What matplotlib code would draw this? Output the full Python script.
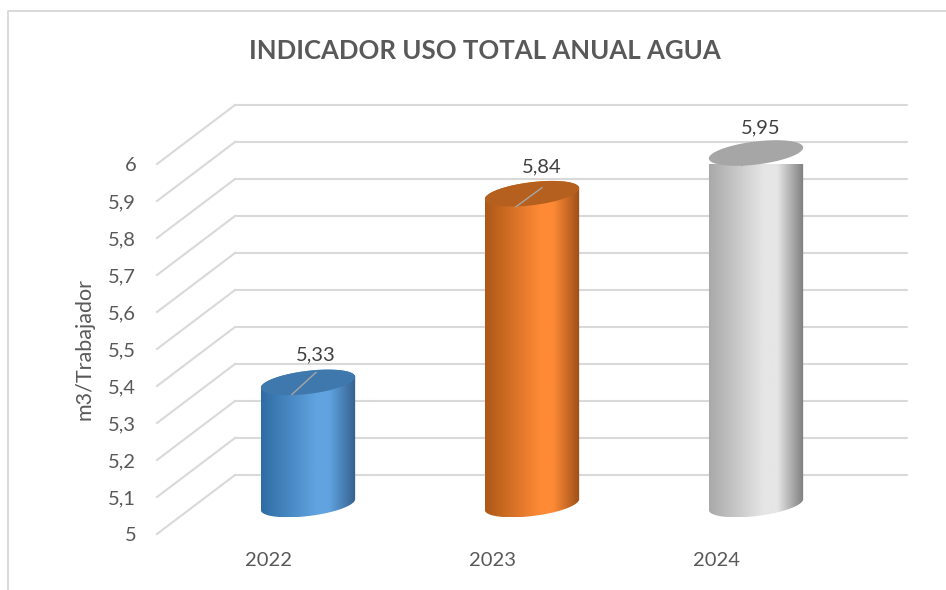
import numpy as np
import matplotlib
matplotlib.use("Agg")
import matplotlib.pyplot as plt
from matplotlib.colors import LinearSegmentedColormap
from matplotlib.patches import Polygon
from matplotlib.lines import Line2D
from matplotlib.transforms import Affine2D, IdentityTransform

plt.rcParams['font.family'] = ['Lato', 'DejaVu Sans']

# Data
years = ['2022', '2023', '2024']
values = [5.33, 5.84, 5.95]
value_labels = ['5,33', '5,84', '5,95']
yticks = [5.0, 5.1, 5.2, 5.3, 5.4, 5.5, 5.6, 5.7, 5.8, 5.9, 6.0]
ytick_labels = ['5', '5,1', '5,2', '5,3', '5,4', '5,5', '5,6', '5,7', '5,8', '5,9', '6']
title = 'INDICADOR USO TOTAL ANUAL AGUA'
ylabel = 'm3/Trabajador'

# Styles: (side dark, highlight, other side dark, top)
palette = [
    ('#2f6ca3', '#60a3e0', '#35608c', '#3f78ad'),
    ('#ad5817', '#ff8a36', '#9c4f18', '#b5601f'),
    ('#a9a9a9', '#e6e6e6', '#7d7d7d', '#a6a6a6'),
]
label_offsets = [(8, 28), (10, 27), (5, 25)]
leaders = [((-16, -12), (8, 10)), ((-16, -13), (10, 6)), ((-15, -12), (-14, -12))]
GRID = '#d9d9d9'
TEXT = '#595959'
W, H = 946, 590
DEPTH = (78, 59)
RX, RY, TILT = 47.5, 11.5, np.deg2rad(7)

fig = plt.figure(figsize=(W / 100, H / 100), dpi=100, facecolor='white')
ax = fig.add_axes([157 / W, (H - 534) / H, (829 - 157) / W, 370 / H])
ax.set_xlim(-0.5, 2.5)
ax.set_ylim(5, 6)
ax.patch.set_visible(False)
for s in ax.spines.values():
    s.set_visible(False)

back = ax.transData + Affine2D().translate(*DEPTH)
for v in yticks:
    # floor/side diagonal then back wall line
    p0 = ax.transData.transform((-0.5, v))
    ax.add_line(Line2D([p0[0], p0[0] + DEPTH[0]], [p0[1], p0[1] + DEPTH[1]],
                       transform=IdentityTransform(), color=GRID, lw=1.5, clip_on=False, zorder=1))
    ax.plot([-0.5, 2.5], [v, v], transform=back, color=GRID, lw=1.5, clip_on=False, zorder=1,
            solid_capstyle='round')

ax.set_xticks(range(len(years)), years)
ax.set_yticks(yticks, ytick_labels)
ax.tick_params(axis='both', length=0, labelsize=14.5, labelcolor=TEXT)
ax.tick_params(axis='y', pad=15)
ax.tick_params(axis='x', pad=13)


def ell(cx, cy, t):
    x = cx + RX * np.cos(t) * np.cos(TILT) - RY * np.sin(t) * np.sin(TILT)
    y = cy + RX * np.cos(t) * np.sin(TILT) + RY * np.sin(t) * np.cos(TILT)
    return np.column_stack([x, y])


t_low = np.linspace(np.pi, 2 * np.pi, 80)
t_up = np.linspace(0, np.pi, 80)
t_all = np.linspace(0, 2 * np.pi, 160)

for i, (v, lab, cols) in enumerate(zip(values, value_labels, palette)):
    cx, cy_top = ax.transData.transform((i, v)) + np.array(DEPTH) / 2
    _, cy_bot = ax.transData.transform((i, 5.0)) + np.array(DEPTH) / 2
    body = np.vstack([ell(cx, cy_bot, t_low), ell(cx, cy_top, t_up)])
    clip = Polygon(body, closed=True, transform=IdentityTransform(), fc='none', ec='none')
    ax.add_patch(clip)
    cmap = LinearSegmentedColormap.from_list(
        'c', [(0, cols[0]), (0.58, cols[1]), (0.72, cols[1]), (1, cols[2])])
    left, right = body[:, 0].min(), body[:, 0].max()
    bot, top = body[:, 1].min(), body[:, 1].max()
    im = ax.imshow(np.linspace(0, 1, 256)[None, :], cmap=cmap, aspect='auto',
                   extent=(left, right, bot, top), transform=IdentityTransform(),
                   zorder=3, interpolation='bilinear')
    im.set_clip_path(clip)
    im.set_clip_on(True)
    ax.add_patch(Polygon(ell(cx, cy_top, t_all), closed=True, transform=IdentityTransform(),
                         fc=cols[3], ec='none', zorder=4, clip_on=False))
    (a, b) = leaders[i]
    ax.add_line(Line2D([cx + a[0], cx + b[0]], [cy_top + a[1], cy_top + b[1]],
                       transform=IdentityTransform(), color='#a6a6a6', lw=1.0,
                       clip_on=False, zorder=5))
    ox, oy = label_offsets[i]
    ax.text(cx + ox, cy_top + oy, lab, transform=IdentityTransform(), ha='center', va='center',
            fontsize=14.5, color='#404040', zorder=6, clip_on=False)

ax.set_xlim(-0.5, 2.5)
ax.set_ylim(5, 6)

fig.text(485 / W, 1 - 51 / H, title, ha='center', va='center', fontsize=18.5,
         fontweight='bold', color=TEXT)
fig.text(84 / W, 1 - 349 / H, ylabel, rotation=90, ha='center', va='center',
         fontsize=15.5, color=TEXT)

# Chart frame
fig.add_artist(Line2D([8 / W, 8 / W, 1], [0, 1 - 11 / H, 1 - 11 / H],
                      transform=fig.transFigure, color=GRID, lw=1.4))

fig.savefig('out.png', dpi=100)
